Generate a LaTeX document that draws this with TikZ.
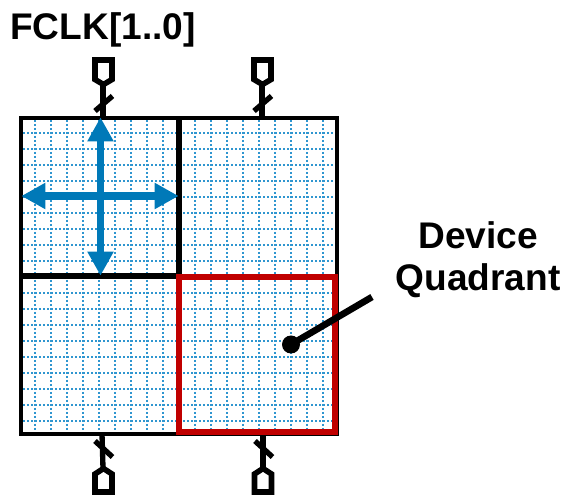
\documentclass[tikz,border=0pt]{standalone}
\usepackage{fontspec}
\setmainfont{Liberation Sans}
\usetikzlibrary{arrows.meta}
\definecolor{gridblue}{HTML}{2F96D0}
\definecolor{arrowblue}{HTML}{0079B8}
\definecolor{quadred}{HTML}{C00000}
\tikzset{
  x=0.75pt,y=-0.75pt,
  gridline/.style={gridblue,line width=1.5pt,dash pattern=on 1.5pt off 1.5pt},
  quadbox/.style={draw=black,line width=3.2pt,minimum width=118.5pt,minimum height=118.5pt,inner sep=0pt,outer sep=0pt},
  divider/.style={black,line width=3.8pt},
  hotbox/.style={draw=quadred,line width=5pt,minimum width=117pt,minimum height=116.25pt,inner sep=0pt,outer sep=0pt},
  wire/.style={black,line width=4pt},
  pinshape/.style={draw=black,line width=4.2pt,line join=miter,fill=white},
  bluearrow/.style={arrowblue,line width=5.4pt,-{Triangle[length=18pt,width=18.5pt]},shorten >=-0.5pt},
  label/.style={font=\bfseries\fontsize{27.8pt}{32pt}\selectfont,text=black,inner sep=0pt,anchor=center},
}
\begin{document}
\begin{tikzpicture}
\useasboundingbox (0,0) rectangle (565,495);
% grid
\foreach \v in {35,51,...,163,195,211,...,323}{
  \draw[gridline] (\v,120) -- (\v,432);
}
\foreach \h in {133,149,...,261,293,309,...,421}{
  \draw[gridline] (23,\h) -- (335,\h);
}
% quadrants
\node[quadbox] (q1) at (100,197) {};
\node[quadbox] (q2) at (258,197) {};
\node[quadbox] (q3) at (100,355) {};
\node[quadbox] (q4) at (258,355) {};
\draw[divider] (q1.north east) -- (q1.south east);
\draw[divider] (q1.south west) -- (q1.south east);
% pin anchors
\coordinate (p1) at (103,84);
\coordinate (p2) at (262,84);
\coordinate (p3) at (103,468);
\coordinate (p4) at (263,468);
\coordinate (t1) at (103,118);
\coordinate (t2) at (262,118);
\coordinate (b1) at (102,434);
\coordinate (b2) at (263,434);
% wires
\draw[wire] (p1) -- (t1);
\draw[wire] (p2) -- (t2);
\draw[wire] (p3) -- (b1);
\draw[wire] (p4) -- (b2);
\draw[wire] (95,111) -- (112.5,96);
\draw[wire] (254,111) -- (271.5,96);
\draw[wire] (95,441) -- (112.5,457);
\draw[wire] (255,441) -- (272.5,457);
% pins
\draw[pinshape] (95,60) -- (112,60) -- (112,79.5) -- (103.5,84.5) -- (95,79.5) -- cycle;
\draw[pinshape] (254,60) -- (271,60) -- (271,79.5) -- (262.5,84.5) -- (254,79.5) -- cycle;
\draw[pinshape] (95,492) -- (112,492) -- (112,474) -- (103.5,468.5) -- (95,474) -- cycle;
\draw[pinshape] (254.5,492) -- (271.5,492) -- (271.5,474) -- (263,468.5) -- (254.5,474) -- cycle;
% red quadrant
\node[hotbox] (hot) at (257,354.5) {};
% blue arrows
\coordinate (cc) at (100.5,196);
\draw[bluearrow] (cc) -- (100.5,118);
\draw[bluearrow] (cc) -- (100.5,275);
\draw[bluearrow] (cc) -- (22,196);
\draw[bluearrow] (cc) -- (178,196);
% leader
\node[circle,fill=black,minimum size=13.5pt,inner sep=0pt,outer sep=0pt] (dot) at (291,344.5) {};
\coordinate (lead) at (372,297);
\draw[black,line width=5pt] (dot.center) -- (lead);
% labels
\node[label] (clk) at (103,30) {FCLK[1..0]};
\node[label] (dev) at (478,235) {Device};
\node[label] (qua) at (478,281) {Quadrant};
\end{tikzpicture}
\end{document}
